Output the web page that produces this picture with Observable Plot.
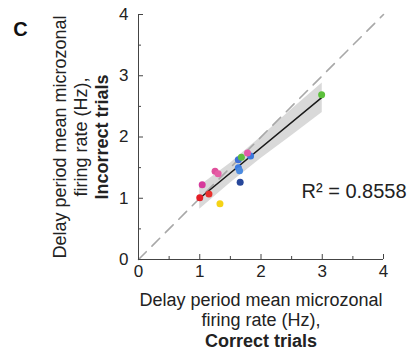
<!DOCTYPE html>
<html>
<head>
<meta charset="utf-8">
<script src="https://cdn.jsdelivr.net/npm/d3@7"></script>
<script src="https://cdn.jsdelivr.net/npm/@observablehq/plot@0.6"></script>
<style>
  html, body { margin: 0; padding: 0; background: #ffffff; }
  #chart svg { display: block; }
</style>
</head>
<body>
<div id="chart"></div>
<script>
// Points: delay period mean microzonal firing rate (Hz)
const xCorrect   = [1.00, 1.15, 1.04, 1.25, 1.30, 1.33, 1.66, 1.63, 1.65, 1.63, 1.68, 1.83, 1.78, 2.99];
const yIncorrect = [1.01, 1.07, 1.22, 1.44, 1.40, 0.91, 1.26, 1.50, 1.45, 1.63, 1.67, 1.69, 1.74, 2.69];
const pointColors = ["#e41e26", "#e8302c", "#d63a9c", "#e0509c", "#e55ca5", "#f5d316", "#27479a",
                     "#3b7be0", "#4a8ae0", "#3f6fd8", "#5dbd3f", "#3c78dc", "#e25aa8", "#5cc03c"];

// Regression fit and its confidence band
const regX = [1.0, 3.0];
const regY = [1.0, 2.65];
const bandX    = [1.0, 1.5, 2.0, 2.5, 3.0];
const bandLow  = [0.82, 1.25, 1.65, 2.02, 2.40];
const bandHigh = [1.20, 1.57, 2.00, 2.45, 2.88];

// Identity line and ticks
const identity = [0, 4];
const majorTicks = [0, 1, 2, 3, 4];
const minorTicks = [0.5, 1.5, 2.5, 3.5];

const panelLabel = "C";
const r2Label = "R\u00B2 = 0.8558";
const xTitle = ["Delay period mean microzonal", "firing rate (Hz),", "Correct trials"];
const yTitle = ["Delay period mean microzonal", "firing rate (Hz),", "Incorrect trials"];

const points = xCorrect.map((x, i) => ({x, y: yIncorrect[i], c: pointColors[i]}));
const band = bandX.map((x, i) => ({x, lo: bandLow[i], hi: bandHigh[i]}));
const reg = regX.map((x, i) => ({x, y: regY[i]}));

const FONT = "'Liberation Sans', Arial, sans-serif";
const INK = "#222";
const fmt = d => String(d);

const chart = Plot.plot({
  width: 414,
  height: 353,
  marginLeft: 138,
  marginRight: 31,
  marginTop: 14,
  marginBottom: 94,
  style: {fontFamily: FONT, background: "#ffffff", color: INK},
  x: {domain: [0, 4]},
  y: {domain: [0, 4]},
  color: {type: "identity"},
  marks: [
    Plot.areaY(band, {x: "x", y1: "lo", y2: "hi", fill: "#d9d9d9"}),
    Plot.line(identity, {x: d => d, y: d => d, stroke: "#a8a8a8", strokeWidth: 1.6, strokeDasharray: "11,8"}),
    Plot.line(reg, {x: "x", y: "y", stroke: "#1a1a1a", strokeWidth: 1.5}),
    Plot.dot(points, {x: "x", y: "y", fill: "c", r: 3.5}),
    Plot.ruleX([0], {stroke: "#444", strokeWidth: 1}),
    Plot.ruleY([0], {stroke: "#444", strokeWidth: 1}),
    Plot.axisX(majorTicks, {tickSize: -5, tickPadding: 10, fontSize: 17, tickFormat: fmt, label: null, stroke: "#444", fill: INK}),
    Plot.axisX(minorTicks, {tickSize: -3, tickFormat: () => "", label: null, stroke: "#444"}),
    Plot.axisY(majorTicks, {tickSize: -5, tickPadding: 15, fontSize: 17, tickFormat: fmt, label: null, stroke: "#444", fill: INK}),
    Plot.axisY(minorTicks, {tickSize: -3, tickFormat: () => "", label: null, stroke: "#444"}),
    // x title
    Plot.text([xTitle[0]], {frameAnchor: "bottom", dy: 41, lineAnchor: "middle", text: d => d, fontSize: 18, fill: INK}),
    Plot.text([xTitle[1]], {frameAnchor: "bottom", dy: 61, lineAnchor: "middle", text: d => d, fontSize: 18, fill: INK}),
    Plot.text([xTitle[2]], {frameAnchor: "bottom", dy: 82, lineAnchor: "middle", text: d => d, fontSize: 18, fontWeight: "bold", fill: INK}),
    // y title
    Plot.text([yTitle[0]], {frameAnchor: "left", dx: -78, rotate: -90, textAnchor: "middle", lineAnchor: "middle", text: d => d, fontSize: 18, fill: INK}),
    Plot.text([yTitle[1]], {frameAnchor: "left", dx: -57, rotate: -90, textAnchor: "middle", lineAnchor: "middle", text: d => d, fontSize: 18, fill: INK}),
    Plot.text([yTitle[2]], {frameAnchor: "left", dx: -36, rotate: -90, textAnchor: "middle", lineAnchor: "middle", text: d => d, fontSize: 18, fontWeight: "bold", fill: INK}),
    // panel label
    Plot.text([panelLabel], {frameAnchor: "top-left", dx: -118, dy: 15, textAnchor: "middle", lineAnchor: "middle", text: d => d, fontSize: 20, fontWeight: "bold", fill: "#111"}),
    // R^2 annotation
    Plot.text([r2Label], {frameAnchor: "top-left", dx: 163, dy: 177, textAnchor: "start", lineAnchor: "middle", text: d => d, fontSize: 20, fill: INK})
  ]
});

document.getElementById("chart").appendChild(chart);
</script>
</body>
</html>
